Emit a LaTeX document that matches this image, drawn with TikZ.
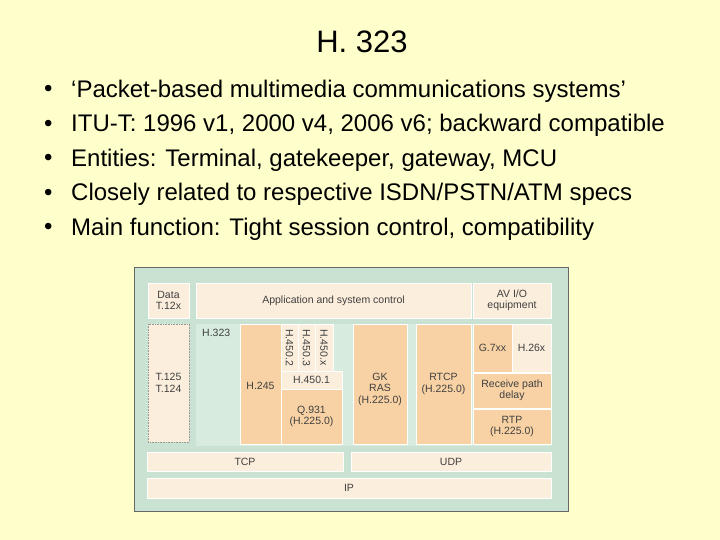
\documentclass[tikz,border=0pt]{standalone}
\usepackage{fontspec}
\setmainfont{Liberation Sans}
\begin{document}
\begin{tikzpicture}[x=1pt,y=-1pt,
  bx/.style={draw=white,line width=0.6pt},
  org/.style={bx,fill=orangebox},
  crm/.style={bx,fill=creambox},
  lab/.style={font=\fontsize{10.5}{11.5}\selectfont,text=black!75,align=center,inner sep=0pt},
  bl/.style={anchor=west,inner sep=0pt,font=\fontsize{24}{28}\selectfont}]
\definecolor{bg}{HTML}{FFFFCC}
\definecolor{gframe}{HTML}{C9E2D2}
\definecolor{glight}{HTML}{D7EBDF}
\definecolor{orangebox}{HTML}{F8D2A4}
\definecolor{creambox}{HTML}{FCEEDC}
\fill[bg] (0,0) rectangle (720,540);
\node[font=\fontsize{31}{36}\selectfont] (title) at (362,42) {H. 323};
\foreach \t [count=\i] in {‘Packet-based multimedia communications systems’,
 {ITU-T: 1996 v1, 2000 v4, 2006 v6; backward compatible},
 {Entities: Terminal, gatekeeper, gateway, MCU},
 Closely related to respective ISDN/PSTN/ATM specs,
 {Main function: Tight session control, compatibility}}{
 \node[bl] (b\i) at (71,{91+(\i-1)*34.5}) {\t};
 \node[bl] (d\i) at (44,{91+(\i-1)*34.5}) {•};
}
\draw[fill=gframe,draw=black!60,line width=0.6pt] (134,267) rectangle (568,511);
\fill[glight] (196,324) rectangle (551,446);
\draw[crm] (148,283) rectangle (189,318); \node[lab] (data) at (168.5,300.5) {Data\\T.12x};
\draw[crm] (196,283) rectangle (471,318); \node[lab] (app) at (333.5,300.5) {Application and system control};
\draw[crm] (473,283) rectangle (551,318); \node[lab] (av) at (512,300.5) {AV I/O\\equipment};
\draw[crm,draw=black!40,densely dotted] (148,324) rectangle (189,442); \node[lab] (t125) at (168.5,383) {T.125\\T.124};
\node[lab,anchor=north west] (h323) at (202,329) {H.323};
\draw[org] (240,324) rectangle (281,444); \node[lab] (h245) at (260.5,386) {H.245};
\draw[crm] (281,324) rectangle (298,371); \node[lab,rotate=-90] (h4502) at (289.5,347.5) {H.450.2};
\draw[crm] (298,324) rectangle (315,371); \node[lab,rotate=-90] (h4503) at (306.5,347.5) {H.450.3};
\draw[crm] (315,324) rectangle (333,371); \node[lab,rotate=-90] (h450x) at (324,347.5) {H.450.x};
\draw[crm] (281,371) rectangle (342,389); \node[lab] (h4501) at (311.5,380) {H.450.1};
\draw[org] (281,389) rectangle (342,444); \node[lab] (q931) at (311.5,416.5) {Q.931\\(H.225.0)};
\draw[org] (353,324) rectangle (407,444); \node[lab] (gk) at (380,389) {GK\\RAS\\(H.225.0)};
\draw[org] (416,324) rectangle (471,444); \node[lab] (rtcp) at (443.5,384) {RTCP\\(H.225.0)};
\draw[org] (473,324) rectangle (512,372); \node[lab] (g7) at (492.5,348) {G.7xx};
\draw[crm] (512,324) rectangle (551,372); \node[lab] (h26) at (531.5,348) {H.26x};
\draw[org] (473,373) rectangle (551,408); \node[lab] (rpd) at (512,390.5) {Receive path\\delay};
\draw[org] (473,409) rectangle (551,444); \node[lab] (rtp) at (512,426.5) {RTP\\(H.225.0)};
\draw[crm] (147,452) rectangle (343,471); \node[lab] (tcp) at (245,461.5) {TCP};
\draw[crm] (351,452) rectangle (551,471); \node[lab] (udp) at (451,461.5) {UDP};
\draw[crm] (147,478) rectangle (551,498); \node[lab] (ip) at (349,488) {IP};
\end{tikzpicture}
\end{document}
